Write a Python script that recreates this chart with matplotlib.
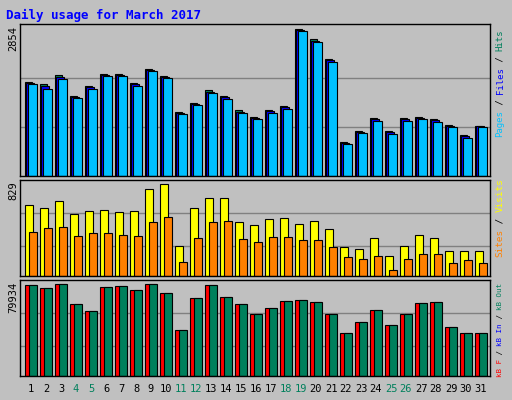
import numpy as np
import matplotlib
matplotlib.use("Agg")
import matplotlib.pyplot as plt

days = np.arange(1, 32)
weekend = [4, 5, 11, 12, 18, 19, 25, 26]

hits = [1829, 1784, 1959, 1557, 1751, 1985, 1985, 1810, 2082, 1939, 1239, 1420, 1673, 1557, 1284, 1142,
        1284, 1362, 2854, 2659, 2277, 655, 876, 1129, 876, 1129, 1148, 1109, 992, 798, 973]
files = [1800, 1750, 1920, 1530, 1720, 1960, 1960, 1780, 2060, 1920, 1220, 1400, 1640, 1530, 1250, 1125,
         1255, 1335, 2830, 2630, 2245, 640, 855, 1100, 845, 1100, 1130, 1080, 970, 770, 963]
pages = [1790, 1693, 1887, 1518, 1693, 1946, 1946, 1751, 2043, 1907, 1206, 1382, 1615, 1498, 1226, 1109,
         1226, 1304, 2815, 2601, 2218, 623, 837, 1070, 817, 1070, 1109, 1051, 953, 739, 953]
visits = [639, 612, 675, 558, 585, 594, 576, 585, 784, 829, 268, 612, 702, 702, 485, 458,
          512, 521, 467, 494, 422, 259, 241, 341, 178, 268, 368, 341, 223, 223, 223]
sites = [395, 431, 440, 359, 386, 386, 368, 359, 485, 531, 124, 341, 485, 494, 332, 304,
         350, 350, 323, 323, 259, 169, 151, 178, 51, 151, 196, 196, 115, 142, 115]
kbytes = [78771, 76165, 79934, 62264, 56182, 77034, 77902, 74427, 79934, 71821, 39675, 67477, 78771,
          68346, 62264, 53576, 58789, 64870, 65739, 64002, 53576, 37069, 46626, 57051, 44019, 53576,
          63133, 64002, 42282, 37069, 37069]

BG = "#c0c0c0"
MONO = "DejaVu Sans Mono"
W, H = 512, 400

fig = plt.figure(figsize=(5.12, 4.0), dpi=100)
fig.patch.set_facecolor(BG)


def px_axes(y0, y1):
    # rect from image pixel coords (x 20..490, y top..bottom)
    ax = fig.add_axes([20 / W, 1 - y1 / H, 470 / W, (y1 - y0) / H])
    ax.set_facecolor(BG)
    ax.set_xlim(0.267, 31.6)
    ax.set_xticks([])
    ax.set_yticks([])
    for s in ax.spines.values():
        s.set_color("black")
        s.set_linewidth(1)
    return ax


kw = dict(edgecolor="black", linewidth=0.8, align="edge")

# hits / files / pages
ax1 = px_axes(24, 176)
ax1.set_ylim(0, 2854 * 152 / 147)
for g in (2854 / 3, 2854 * 2 / 3):
    ax1.axhline(g, color="#808080", lw=1, zorder=0)
ax1.bar(days - 0.4, hits, 0.5, color="#00805c", **kw)
ax1.bar(days - 0.3, files, 0.5, color="#0000ff", **kw)
ax1.bar(days - 0.2, pages, 0.58, color="#00c0ff", **kw)

# visits / sites
ax2 = px_axes(180, 276)
ax2.set_ylim(0, 829 * 96 / 91.7)
for g in (268, 567):
    ax2.axhline(g, color="#808080", lw=1, zorder=0)
ax2.bar(days - 0.4, visits, 0.56, color="#ffff00", **kw)
ax2.bar(days - 0.153, sites, 0.52, color="#ff8000", **kw)

# kbytes
ax3 = px_axes(280, 376)
ax3.set_ylim(0, 79934 * 96 / 92)
for g in (25774, 54445):
    ax3.axhline(g, color="#808080", lw=1, zorder=0)
ax3.bar(days - 0.4, kbytes, 0.76, color="#ff0000", **kw)
ax3.bar(days - 0.153, kbytes, 0.52, color="#00805c", **kw)

# day labels
for d in days:
    x = (31 + 15 * (d - 1)) / W
    fig.text(x, 1 - 389 / H, str(d), ha="center", va="center", family=MONO, fontsize=7.5,
             color="#00805c" if d in weekend else "black")

# left max labels
for txt, y in [("2854", 26), ("829", 181), ("79934", 282)]:
    fig.text(13 / W, 1 - y / H, txt, rotation=90, ha="center", va="top", family=MONO, fontsize=7.5)


# right legends (bottom to top)
def right_label(parts, ybot, step):
    y = ybot
    fs = step / 0.836
    for txt, col in parts:
        fig.text(500 / W, 1 - y / H, txt, rotation=90, ha="center", va="bottom",
                 family=MONO, fontsize=fs, color=col)
        y -= len(txt) * step


right_label([("Pages", "#00c0ff"), (" / ", "#000000"), ("Files", "#0000ff"),
             (" / ", "#000000"), ("Hits", "#00805c")], 137, 5.4)
right_label([("Sites", "#ff8000"), (" / ", "#000000"), ("Visits", "#ffff00")], 257, 5.6)
right_label([("kB F", "#ff0000"), (" / ", "#000000"), ("kB In", "#0000ff"),
             (" / ", "#000000"), ("kB Out", "#00805c")], 377, 4.5)

fig.text(6 / W, 1 - 15 / H, "Daily usage for March 2017", family=MONO, fontsize=9,
         fontweight="bold", color="#0000ff", va="center")

fig.savefig("out.png", dpi=100, facecolor=BG)
